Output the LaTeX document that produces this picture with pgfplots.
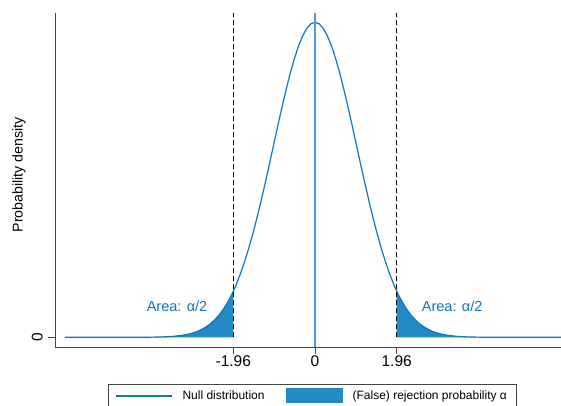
\documentclass[border=0pt]{standalone}
\usepackage{pgfplots}
\usepackage{pgfplotstable}
\pgfplotsset{compat=1.18}
\usepackage{fontspec}
\setmainfont{Liberation Sans}
\definecolor{curveblue}{RGB}{16,118,190}
\definecolor{fillblue}{RGB}{34,138,198}
\definecolor{zeroblue}{RGB}{80,155,218}
\definecolor{axgray}{RGB}{70,70,70}
\pgfplotsset{
  leglinesty/.style={legend image code/.code={\draw[##1] (0pt,0pt) -- (56pt,0pt);}},
  legrectsty/.style={legend image code/.code={\fill[##1] (0pt,-7.5pt) rectangle (57pt,7.5pt);}},
}

\pgfplotstableread{
x y
-6.0 0.000000
-5.0 0.000001
-4.5 0.000016
-4.0 0.000134
-3.8 0.000292
-3.6 0.000612
-3.4 0.001232
-3.2 0.002384
-3.0 0.004432
-2.9 0.005953
-2.8 0.007915
-2.7 0.010421
-2.6 0.013583
-2.5 0.017528
-2.4 0.022395
-2.3 0.028327
-2.2 0.035475
-2.1 0.043984
-2.0 0.053991
-1.96 0.058441
-1.9 0.065616
-1.8 0.078950
-1.7 0.094049
-1.6 0.110921
-1.5 0.129518
-1.4 0.149727
-1.3 0.171369
-1.2 0.194186
-1.1 0.217852
-1.0 0.241971
-0.9 0.266085
-0.8 0.289692
-0.7 0.312254
-0.6 0.333225
-0.5 0.352065
-0.4 0.368270
-0.3 0.381388
-0.2 0.391043
-0.1 0.396953
0.0 0.398942
0.1 0.396953
0.2 0.391043
0.3 0.381388
0.4 0.368270
0.5 0.352065
0.6 0.333225
0.7 0.312254
0.8 0.289692
0.9 0.266085
1.0 0.241971
1.1 0.217852
1.2 0.194186
1.3 0.171369
1.4 0.149727
1.5 0.129518
1.6 0.110921
1.7 0.094049
1.8 0.078950
1.9 0.065616
1.96 0.058441
2.0 0.053991
2.1 0.043984
2.2 0.035475
2.3 0.028327
2.4 0.022395
2.5 0.017528
2.6 0.013583
2.7 0.010421
2.8 0.007915
2.9 0.005953
3.0 0.004432
3.2 0.002384
3.4 0.001232
3.6 0.000612
3.8 0.000292
4.0 0.000134
4.5 0.000016
5.0 0.000001
6.0 0.000000
}\curvedata

\pgfplotstableread{
x y
-6.0 0.000000
-5.0 0.000001
-4.5 0.000016
-4.0 0.000134
-3.8 0.000292
-3.6 0.000612
-3.4 0.001232
-3.2 0.002384
-3.0 0.004432
-2.9 0.005953
-2.8 0.007915
-2.7 0.010421
-2.6 0.013583
-2.5 0.017528
-2.4 0.022395
-2.3 0.028327
-2.2 0.035475
-2.1 0.043984
-2.0 0.053991
-1.96 0.058441
-1.96 0.000000
}\lefttail

\pgfplotstableread{
x y
1.96 0.000000
1.96 0.058441
2.0 0.053991
2.1 0.043984
2.2 0.035475
2.3 0.028327
2.4 0.022395
2.5 0.017528
2.6 0.013583
2.7 0.010421
2.8 0.007915
2.9 0.005953
3.0 0.004432
3.2 0.002384
3.4 0.001232
3.6 0.000612
3.8 0.000292
4.0 0.000134
4.5 0.000016
5.0 0.000001
6.0 0.000000
}\righttail

\begin{document}
\begin{tikzpicture}
\path[use as bounding box] (0pt,0pt) rectangle (561pt,405pt);
\begin{axis}[
  at={(55pt,58pt)}, anchor=south west,
  scale only axis, width=506pt, height=334pt,
  xmin=-6.238, xmax=5.902, ymin=-0.0123, ymax=0.4107,
  axis x line=bottom, axis y line=left,
  axis line style={-, axgray, line width=0.9pt},
  xtick={-1.96,0,1.96}, xticklabels={\textnormal{-1.96},\textnormal{0},\textnormal{1.96}},
  ytick={0}, yticklabels={\textnormal{0}},
  yticklabel style={rotate=90, anchor=south, inner sep=5pt},
  xticklabel style={inner sep=1pt},
  tick align=outside, major tick length=7pt,
  tick style={axgray, line width=0.9pt},
  ticklabel style={font=\fontsize{15.5}{17}\selectfont},
  ylabel={Probability density},
  ylabel style={font=\fontsize{14.2}{16}\selectfont, at={(axis description cs:-0.0711,0.516)}, anchor=center},
  legend style={at={(axis description cs:0.1047,-0.111)}, anchor=north west,
     draw=axgray, line width=0.8pt, font=\fontsize{12}{14}\selectfont,
     inner xsep=7pt, inner ysep=4pt,
     /tikz/every odd column/.append style={column sep=8pt},
     /tikz/every even column/.append style={column sep=19pt}},
  legend columns=2,
  legend cell align=left,
]
\addplot[fill=fillblue, draw=none, forget plot] table {\lefttail} -- cycle;
\addplot[fill=fillblue, draw=none, forget plot] table {\righttail} -- cycle;
\addplot[curveblue, line width=1.2pt, forget plot] table {\curvedata};
\addplot[black, dash pattern=on 5pt off 3pt, line width=1.1pt, forget plot] coordinates {(-1.96,0) (-1.96,0.4107)};
\addplot[black, dash pattern=on 5pt off 3pt, line width=1.1pt, forget plot] coordinates {(1.96,0) (1.96,0.4107)};
\addplot[zeroblue, line width=1.2pt, forget plot] coordinates {(0,-0.0123) (0,0.4107)};
\node[curveblue, font=\fontsize{14.5}{16}\selectfont] at (axis cs:-3.31,0.0396) {Area: α/2};
\node[curveblue, font=\fontsize{14.5}{16}\selectfont] at (axis cs:3.29,0.0396) {Area: α/2};
\addlegendimage{curveblue, line width=1.2pt, leglinesty}
\addlegendentry{Null distribution}
\addlegendimage{fill=fillblue, draw=none, legrectsty}
\addlegendentry{(False) rejection probability α}
\end{axis}
\end{tikzpicture}
\end{document}
